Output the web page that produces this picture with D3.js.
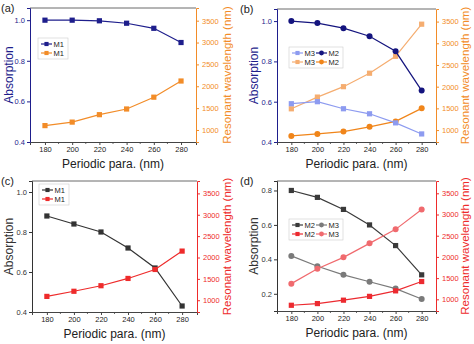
<!DOCTYPE html>
<html>
<head>
<meta charset="utf-8">
<script src="https://cdn.jsdelivr.net/npm/d3@7"></script>
<style>
  body { margin: 0; background: #fff; }
  svg { font-family: "Liberation Sans", Arial, sans-serif; }
</style>
</head>
<body>
<div id="chart"></div>
<script>
const W = 474, H = 344;

// shared x values (periodic parameter, nm)
const periods = [180, 200, 220, 240, 260, 280];

// panel (a)
const absA_M1 = [1.0, 1.0, 0.997, 0.985, 0.96, 0.89];
const wlA_M1 = [1100, 1180, 1350, 1480, 1750, 2120];
// panel (b)
const absB_M2 = [1.0, 0.99, 0.965, 0.925, 0.85, 0.655];
const absB_M3 = [0.59, 0.60, 0.565, 0.54, 0.495, 0.44];
const wlB_M3 = [1490, 1760, 2000, 2310, 2700, 3440];
const wlB_M2 = [865, 910, 965, 1075, 1200, 1500];
// panel (c)
const absC_M1 = [0.88, 0.84, 0.80, 0.72, 0.62, 0.43];
const wlC_M1 = [1090, 1210, 1340, 1510, 1720, 2150];
// panel (d)
const absD_M2 = [0.80, 0.76, 0.69, 0.60, 0.48, 0.31];
const absD_M3 = [0.42, 0.36, 0.31, 0.27, 0.23, 0.17];
const wlD_M2 = [860, 900, 980, 1070, 1200, 1420];
const wlD_M3 = [1370, 1720, 1990, 2320, 2650, 3120];

const xTicks = [180, 200, 220, 240, 260, 280];
const absTicks = [0.4, 0.6, 0.8, 1.0];
const absTicksD = [0.2, 0.4, 0.6, 0.8];
const wlTicks = [1000, 1500, 2000, 2500, 3000, 3500];

const navy = "#1e1e8c", orange = "#f28c28";
const dark = "#333333", red = "#ee2b2b";

const svg = d3.select("#chart").append("svg")
  .attr("width", W).attr("height", H);

function drawPanel(p) {
  const g = svg.append("g");
  const x = d3.scaleLinear().domain([169, 291]).range([p.left, p.right]);
  const yL = d3.scaleLinear().domain(p.absDomain).range([p.bottom, p.top]);
  const yR = d3.scaleLinear().domain([725, 3790]).range([p.bottom, p.top]);

  // top spine
  g.append("line").attr("x1", p.left).attr("x2", p.right)
    .attr("y1", p.top).attr("y2", p.top).attr("stroke", "#444").attr("stroke-width", 0.8);

  // bottom axis
  const xa = g.append("g").attr("transform", `translate(0,${p.bottom})`)
    .call(d3.axisBottom(x).tickValues(xTicks).tickSize(3).tickPadding(2).tickFormat(d3.format("d")));
  xa.select(".domain").attr("stroke", "#444");
  xa.selectAll("line").attr("stroke", "#444");
  xa.selectAll("text").attr("fill", "#222").style("font-size", "7.5px");
  g.append("g").selectAll("line").data([190, 210, 230, 250, 270]).join("line")
    .attr("x1", x).attr("x2", x).attr("y1", p.bottom).attr("y2", p.bottom + 1.8)
    .attr("stroke", "#444");

  // left axis
  const la = g.append("g").attr("transform", `translate(${p.left},0)`)
    .call(d3.axisLeft(yL).tickValues(p.absTicks).tickSize(3).tickPadding(2).tickFormat(d3.format(".1f")));
  la.selectAll(".domain, line").attr("stroke", p.cL);
  la.selectAll("text").attr("fill", p.cL).style("font-size", "7.5px");

  // right axis
  const ra = g.append("g").attr("transform", `translate(${p.right},0)`)
    .call(d3.axisRight(yR).tickValues(wlTicks).tickSize(3).tickPadding(3).tickFormat(d3.format("d")));
  ra.selectAll(".domain, line").attr("stroke", p.cR);
  ra.selectAll("text").attr("fill", p.cR).style("font-size", "7.5px");

  // titles
  g.append("text").attr("transform", `translate(${p.titleLx},${(p.top + p.bottom) / 2}) rotate(-90)`)
    .attr("text-anchor", "middle").attr("fill", p.cL).style("font-size", "12px").text("Absorption");
  g.append("text").attr("transform", `translate(${p.titleRx},${(p.top + p.bottom) / 2}) rotate(-90)`)
    .attr("text-anchor", "middle").attr("fill", p.cR).style("font-size", "11.5px")
    .text("Resonant wavelength (nm)");
  g.append("text").attr("x", (p.left + p.right) / 2).attr("y", p.bottom + 26)
    .attr("text-anchor", "middle").attr("fill", "#222").style("font-size", "12px")
    .text("Periodic para. (nm)");
  g.append("text").attr("x", p.tagX).attr("y", p.top + 4)
    .attr("fill", "#222").style("font-size", "11px").text(p.tag);

  // series
  p.series.forEach((s) => {
    const y = s.axis === "L" ? yL : yR;
    const pts = periods.map((v, i) => [x(v), y(s.values[i])]);
    g.append("path").attr("d", d3.line()(pts)).attr("fill", "none")
      .attr("stroke", s.color).attr("stroke-width", 1.2);
    drawMarkers(g, pts, s);
  });

  // legend
  const lg = g.append("g").attr("transform", `translate(${p.legX},${p.legY})`);
  const cols = p.legend[0].length;
  const colW = 24;
  lg.append("rect").attr("x", 0).attr("y", 0)
    .attr("width", cols * colW + 6).attr("height", p.legend.length * 9 + 3)
    .attr("fill", "#fff").attr("stroke", "#ccc").attr("stroke-width", 0.6);
  p.legend.forEach((row, ri) => {
    row.forEach((s, ci) => {
      const lx = 3 + ci * colW, ly = 6 + ri * 9;
      lg.append("line").attr("x1", lx).attr("x2", lx + 11).attr("y1", ly).attr("y2", ly)
        .attr("stroke", s.color).attr("stroke-width", 1.2);
      drawMarkers(lg, [[lx + 5.5, ly]], s, 0.8);
      lg.append("text").attr("x", lx + 12.5).attr("y", ly + 2.7)
        .attr("fill", "#222").style("font-size", "7.5px").text(s.name);
    });
  });
}

function drawMarkers(g, pts, s, k = 1) {
  if (s.shape === "square") {
    const a = 5.2 * k;
    g.append("g").selectAll("rect").data(pts).join("rect")
      .attr("x", (d) => d[0] - a / 2).attr("y", (d) => d[1] - a / 2)
      .attr("width", a).attr("height", a).attr("fill", s.color);
  } else {
    g.append("g").selectAll("circle").data(pts).join("circle")
      .attr("cx", (d) => d[0]).attr("cy", (d) => d[1]).attr("r", 3 * k).attr("fill", s.color);
  }
}

// series definitions
const sA1 = { name: "M1", values: absA_M1, axis: "L", color: navy, shape: "square" };
const sA2 = { name: "M1", values: wlA_M1, axis: "R", color: orange, shape: "square" };
const sB1 = { name: "M3", values: absB_M3, axis: "L", color: "#8d9bf0", shape: "square" };
const sB2 = { name: "M2", values: absB_M2, axis: "L", color: "#14147e", shape: "circle" };
const sB3 = { name: "M3", values: wlB_M3, axis: "R", color: "#f5ad70", shape: "square" };
const sB4 = { name: "M2", values: wlB_M2, axis: "R", color: "#f0851a", shape: "circle" };
const sC1 = { name: "M1", values: absC_M1, axis: "L", color: dark, shape: "square" };
const sC2 = { name: "M1", values: wlC_M1, axis: "R", color: red, shape: "square" };
const sD1 = { name: "M2", values: absD_M2, axis: "L", color: "#3a3a3a", shape: "square" };
const sD2 = { name: "M3", values: absD_M3, axis: "L", color: "#7a7a7a", shape: "circle" };
const sD3 = { name: "M2", values: wlD_M2, axis: "R", color: "#ec2a30", shape: "square" };
const sD4 = { name: "M3", values: wlD_M3, axis: "R", color: "#f06a6e", shape: "circle" };

drawPanel({ left: 30, right: 196, top: 8, bottom: 142, absDomain: [0.4, 1.06], absTicks,
  cL: navy, cR: orange, titleLx: 13, titleRx: 231, tagX: 1, tag: "(a)",
  series: [sA2, sA1], legend: [[sA1], [sA2]], legX: 38, legY: 38 });
drawPanel({ left: 277, right: 436, top: 9, bottom: 142, absDomain: [0.4, 1.06], absTicks,
  cL: navy, cR: orange, titleLx: 258, titleRx: 469, tagX: 240, tag: "(b)",
  series: [sB3, sB4, sB1, sB2], legend: [[sB1, sB2], [sB3, sB4]], legX: 289, legY: 47 });
drawPanel({ left: 32, right: 197, top: 181, bottom: 312, absDomain: [0.4, 1.055], absTicks,
  cL: dark, cR: red, titleLx: 13, titleRx: 231, tagX: 1, tag: "(c)",
  series: [sC1, sC2], legend: [[sC1], [sC2]], legX: 39, legY: 184 });
drawPanel({ left: 277, right: 436, top: 181, bottom: 311, absDomain: [0.1, 0.855], absTicks: absTicksD,
  cL: dark, cR: red, titleLx: 258, titleRx: 469, tagX: 240, tag: "(d)",
  series: [sD1, sD2, sD3, sD4], legend: [[sD1, sD2], [sD3, sD4]], legX: 289, legY: 219 });
</script>
</body>
</html>
